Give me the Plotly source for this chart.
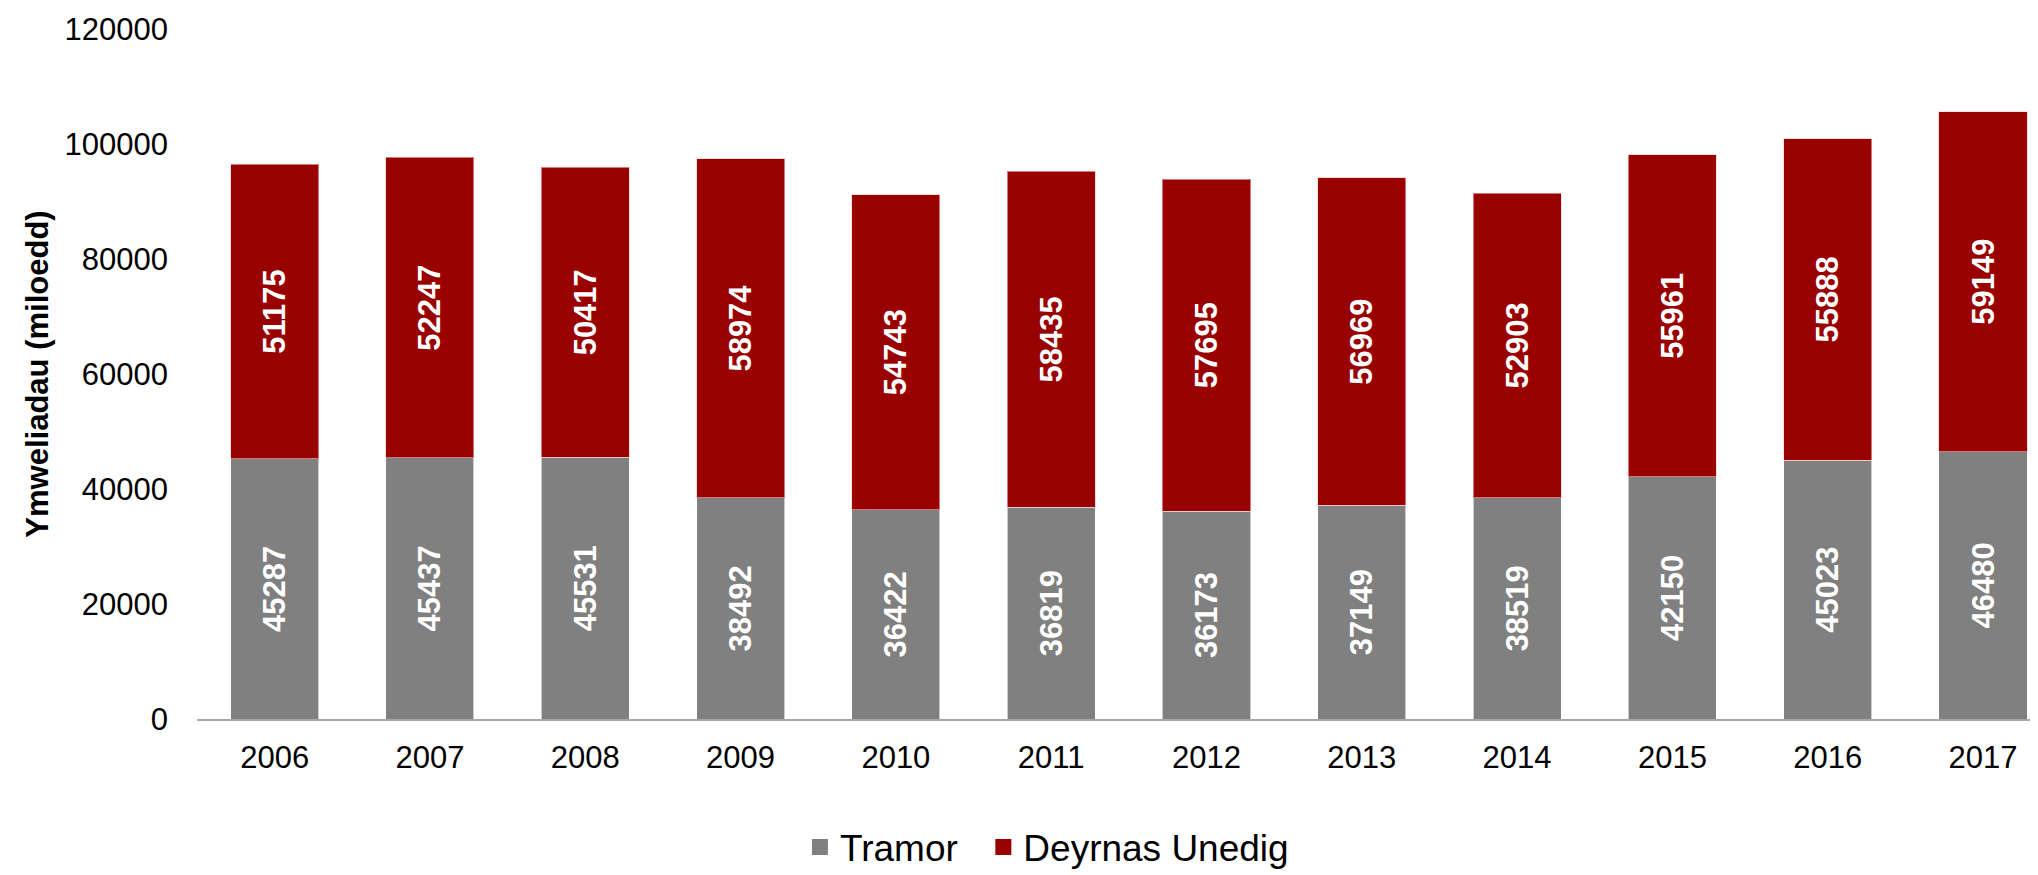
import plotly.graph_objects as go

years = ["2006", "2007", "2008", "2009", "2010", "2011", "2012", "2013", "2014", "2015", "2016", "2017"]
tramor = [45287, 45437, 45531, 38492, 36422, 36819, 36173, 37149, 38519, 42150, 45023, 46480]
deyrnas_unedig = [51175, 52247, 50417, 58974, 54743, 58435, 57695, 56969, 52903, 55961, 55888, 59149]
y_ticks = [0, 20000, 40000, 60000, 80000, 100000, 120000]

FONT = "Liberation Sans, Arial, sans-serif"
GREY = "#808080"
RED = "#990000"

fig = go.Figure()
fig.add_trace(go.Bar(
    x=years, y=tramor, name="Tramor", legendgroup="t", showlegend=False,
    marker=dict(color=GREY, line=dict(color="rgba(255,255,255,0.6)", width=1)),
    text=tramor, texttemplate="%{text}", textposition="inside",
    insidetextanchor="middle", textangle=-90, constraintext="none",
    textfont=dict(color="white", size=31, family=FONT, weight="bold"),
))
fig.add_trace(go.Bar(
    x=years, y=deyrnas_unedig, name="Deyrnas Unedig", legendgroup="d", showlegend=False,
    marker=dict(color=RED, line=dict(color="rgba(255,200,200,0.6)", width=1)),
    text=deyrnas_unedig, texttemplate="%{text}", textposition="inside",
    insidetextanchor="middle", textangle=-90, constraintext="none",
    textfont=dict(color="white", size=31, family=FONT, weight="bold"),
))
# legend entries with larger square swatches
for nm, col, grp in [("Tramor\u00a0\u00a0", GREY, "t"), ("Deyrnas Unedig", RED, "d")]:
    fig.add_trace(go.Scatter(
        x=[None], y=[None], mode="markers", name=nm, legendgroup=grp,
        marker=dict(symbol="square", size=18, color=col), hoverinfo="skip",
    ))

fig.update_layout(
    barmode="stack",
    bargap=0.433,
    width=2030, height=867,
    margin=dict(l=189, r=0, t=21, b=156, autoexpand=False),
    paper_bgcolor="white", plot_bgcolor="white",
    font=dict(family=FONT, color="black", size=31),
    showlegend=True,
    legend=dict(orientation="h", x=0.3275, xanchor="left", y=-0.186, yanchor="middle",
                font=dict(size=37, family=FONT, color="black"), traceorder="normal",
                itemwidth=30),
    xaxis=dict(type="category", range=[-0.5, 11.354], showline=True, linecolor="#a6a6a6",
               linewidth=2, ticks="", showgrid=False, tickfont=dict(size=31),
               ticklabelstandoff=10, fixedrange=True),
    yaxis=dict(range=[0, 120000], tickvals=y_ticks, ticktext=[str(v) for v in y_ticks],
               showgrid=False, showline=False, zeroline=False, ticks="",
               tickfont=dict(size=31), ticklabelstandoff=28,
               title=dict(text="Ymweliadau (miloedd)", standoff=6,
                          font=dict(size=31, family=FONT, weight="bold"))),
)

fig.write_html("out.html")
